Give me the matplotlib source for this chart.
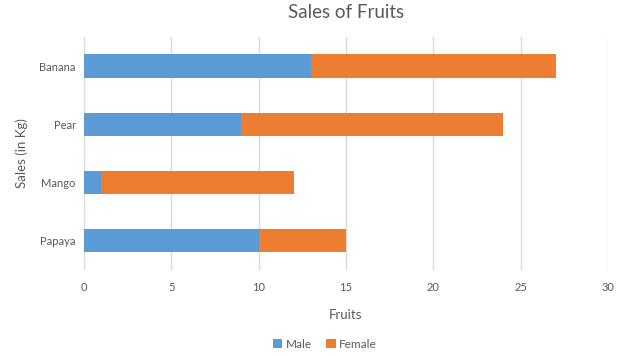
import matplotlib.pyplot as plt

fruits = ['Papaya', 'Mango', 'Pear', 'Banana']
male = [10, 1, 9, 13]
female = [5, 11, 15, 14]

plt.rcParams['font.family'] = ['Lato', 'DejaVu Sans']
text_color = '#595959'

fig = plt.figure(figsize=(6.22, 3.56), dpi=100)
ax = fig.add_axes([0.135, 0.242, 0.8425, 0.654])

ax.barh(fruits, male, height=0.4, color='#5B9BD5', label='Male', zorder=3)
ax.barh(fruits, female, left=male, height=0.4, color='#ED7D31', label='Female', zorder=3)

ax.set_xlim(0, 30)
ax.set_ylim(-0.5, 3.5)
ax.set_xticks(range(0, 31, 5))
ax.grid(axis='x', color='#D9D9D9', linewidth=1, zorder=0)
for s in ax.spines.values():
    s.set_visible(False)
ax.tick_params(length=0, labelsize=8, colors=text_color)
ax.tick_params(axis='x', pad=9)
ax.tick_params(axis='y', pad=6)

ax.set_title('Sales of Fruits', fontsize=13.5, color=text_color, pad=14)
ax.set_xlabel('Fruits', fontsize=9.5, color=text_color, labelpad=11)
ax.set_ylabel('Sales (in Kg)', fontsize=9.5, color=text_color, labelpad=8)

ax.legend(loc='upper center', bbox_to_anchor=(0.46, -0.25), ncol=2, frameon=False,
          fontsize=8.5, labelcolor=text_color, handlelength=0.8, handleheight=0.8,
          handletextpad=0.3, columnspacing=1.2)

fig.savefig('out.png', dpi=100)
